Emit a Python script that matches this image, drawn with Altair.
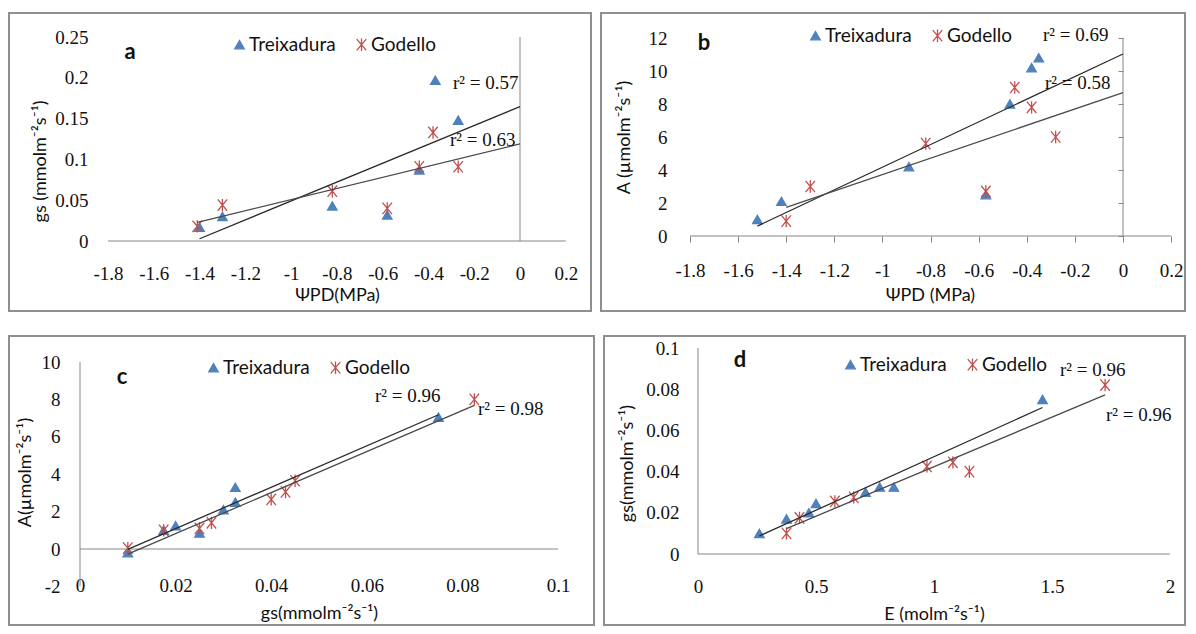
import altair as alt
import pandas as pd

SERIES = ["Treixadura", "Godello"]
BLUE = "#4F81BD"
RED = "#C0504D"
AXIS_GRAY = "#868686"
TXT = "#111111"
SERIF = "Liberation Serif"
SANS = "Lato"
STAR = "M-1,-1.2L1,1.2M-1,1.2L1,-1.2M0,-1.3L0,1.3"

# ---------------- data ----------------
# (a) gs vs Psi PD
a_treix_x = [-1.40, -1.30, -0.82, -0.58, -0.44, -0.37, -0.27]
a_treix_y = [0.017, 0.030, 0.043, 0.032, 0.087, 0.197, 0.148]
a_god_x = [-1.41, -1.30, -0.82, -0.58, -0.44, -0.38, -0.27]
a_god_y = [0.018, 0.044, 0.061, 0.040, 0.091, 0.133, 0.091]
a_xticks = [-1.8, -1.6, -1.4, -1.2, -1.0, -0.8, -0.6, -0.4, -0.2, 0.0, 0.2]
a_yticks = [0, 0.05, 0.1, 0.15, 0.2, 0.25]
a_r2 = ["r² = 0.57", "r² = 0.63"]

# (b) A vs Psi PD
b_treix_x = [-1.52, -1.42, -0.89, -0.57, -0.47, -0.38, -0.35]
b_treix_y = [1.0, 2.1, 4.2, 2.5, 8.0, 10.2, 10.8]
b_god_x = [-1.40, -1.30, -0.82, -0.57, -0.45, -0.38, -0.28]
b_god_y = [0.9, 3.0, 5.6, 2.7, 9.0, 7.8, 6.0]
b_xticks = [-1.8, -1.6, -1.4, -1.2, -1.0, -0.8, -0.6, -0.4, -0.2, 0.0, 0.2]
b_yticks = [0, 2, 4, 6, 8, 10, 12]
b_r2 = ["r² = 0.69", "r² = 0.58"]

# (c) A vs gs
c_treix_x = [0.010, 0.0175, 0.020, 0.025, 0.030, 0.0325, 0.0325, 0.075]
c_treix_y = [-0.2, 1.0, 1.25, 0.85, 2.1, 2.5, 3.3, 7.05]
c_god_x = [0.010, 0.0175, 0.025, 0.0275, 0.040, 0.043, 0.045, 0.0825]
c_god_y = [0.05, 1.0, 1.1, 1.4, 2.65, 3.05, 3.65, 8.0]
c_xticks = [0, 0.02, 0.04, 0.06, 0.08, 0.1]
c_yticks = [-2, 0, 2, 4, 6, 8, 10]
c_r2 = ["r² = 0.96", "r² = 0.98"]

# (d) gs vs E
d_treix_x = [0.26, 0.375, 0.47, 0.50, 0.71, 0.77, 0.83, 1.46]
d_treix_y = [0.010, 0.017, 0.020, 0.0245, 0.030, 0.0325, 0.0325, 0.075]
d_god_x = [0.375, 0.43, 0.58, 0.66, 0.97, 1.08, 1.15, 1.725]
d_god_y = [0.010, 0.0175, 0.0255, 0.0275, 0.0425, 0.0445, 0.040, 0.082]
d_xticks = [0, 0.5, 1, 1.5, 2]
d_yticks = [0, 0.02, 0.04, 0.06, 0.08, 0.1]
d_r2 = ["r² = 0.96", "r² = 0.96"]

# ---------------- layout (pixels) ----------------
PANELS = [
    dict(letter="a", tx=a_treix_x, ty=a_treix_y, gx=a_god_x, gy=a_god_y,
         xticks=a_xticks, yticks=a_yticks, r2=a_r2, forecast0=True,
         xtitle="ΨPD(MPa)", ytitle="gs (mmolm⁻²s⁻¹)",
         box=(9, 13, 582, 298), xa=((-1.8, 108), (0, 520)), ya=((0, 241), (0.25, 37)),
         xlab_y=273, ylab_r=88, xtitle_pos=(337, 295), ytitle_pos=(40, 161),
         ticks=(0, 0), legend=(237, 44), letter_pos=(130, 52),
         r2_pos=[(453, 83), (450, 140)]),
    dict(letter="b", tx=b_treix_x, ty=b_treix_y, gx=b_god_x, gy=b_god_y,
         xticks=b_xticks, yticks=b_yticks, r2=b_r2, forecast0=True,
         xtitle="ΨPD (MPa)", ytitle="A (µmolm⁻²s⁻¹)",
         box=(601, 13, 584, 298), xa=((-1.8, 690), (0, 1123)), ya=((0, 236), (12, 38)),
         xlab_y=270, ylab_r=667, xtitle_pos=(930, 295), ytitle_pos=(624, 137),
         ticks=(6, 5), legend=(813, 35), letter_pos=(704, 43),
         r2_pos=[(1043, 35), (1045, 83)]),
    dict(letter="c", tx=c_treix_x, ty=c_treix_y, gx=c_god_x, gy=c_god_y,
         xticks=c_xticks, yticks=c_yticks, r2=c_r2, forecast0=False,
         xtitle="gs(mmolm⁻²s⁻¹)", ytitle="A(µmolm⁻²s⁻¹)",
         box=(9, 336, 585, 289), xa=((0, 80), (0.1, 558)), ya=((0, 549), (10, 362)),
         xlab_y=585, ylab_r=60, xtitle_pos=(319, 613), ytitle_pos=(25, 472),
         ticks=(0, 0), legend=(211, 367), letter_pos=(122, 377),
         r2_pos=[(375, 396), (478, 409)]),
    dict(letter="d", tx=d_treix_x, ty=d_treix_y, gx=d_god_x, gy=d_god_y,
         xticks=d_xticks, yticks=d_yticks, r2=d_r2, forecast0=False,
         xtitle="E (molm⁻²s⁻¹)", ytitle="gs(mmolm⁻²s⁻¹)",
         box=(604, 336, 581, 289), xa=((0, 698), (2, 1170)), ya=((0, 554), (0.1, 348)),
         xlab_y=586, ylab_r=679, xtitle_pos=(934, 614), ytitle_pos=(627, 463),
         ticks=(0, 0), legend=(848, 364), letter_pos=(740, 360),
         r2_pos=[(1060, 370), (1106, 415)]),
]


def make_panel(P):
    left, top, W, H = P["box"]
    (xv1, xp1), (xv2, xp2) = P["xa"]
    (yv1, yp1), (yv2, yp2) = P["ya"]
    kx = (xp2 - xp1) / (xv2 - xv1)
    x0 = xp1 - kx * xv1
    ky = (yp1 - yp2) / (yv2 - yv1)
    y0 = yp1 + ky * yv1
    xdom = [(left - x0) / kx, (left + W - x0) / kx]
    ydom = [(y0 - (top + H)) / ky, (y0 - top) / ky]

    def dx(px):
        return (px - x0) / kx

    def dy(py):
        return (y0 - py) / ky

    xs = alt.Scale(domain=xdom, nice=False, zero=False)
    ys = alt.Scale(domain=ydom, nice=False, zero=False)
    xt, yt = P["ticks"]

    xaxis = alt.Axis(
        orient="bottom", offset=(y0 - top) - H, values=P["xticks"],
        labelExpr="'' + datum.value", domain=False, grid=False,
        ticks=xt > 0, tickSize=xt, tickColor=AXIS_GRAY, tickWidth=1,
        labelPadding=P["xlab_y"] - y0 - xt, labelBaseline="middle", labelAlign="center",
        labelFont=SERIF, labelFontSize=19, labelColor=TXT,
        labelOverlap=False, labelFlush=False,
        title=P["xtitle"], titleX=P["xtitle_pos"][0] - left, titleY=P["xtitle_pos"][1] - y0,
        titleAlign="center", titleBaseline="middle", titleAngle=0,
        titleFont=SANS, titleFontSize=18, titleFontWeight="normal", titleColor=TXT)
    yaxis = alt.Axis(
        orient="left", offset=-(x0 - left), values=P["yticks"],
        labelExpr="'' + datum.value", domain=False, grid=False,
        ticks=yt > 0, tickSize=yt, tickColor=AXIS_GRAY, tickWidth=1,
        labelPadding=x0 - P["ylab_r"] - yt, labelBaseline="middle", labelAlign="right",
        labelFont=SERIF, labelFontSize=19, labelColor=TXT,
        labelOverlap=False, labelFlush=False,
        title=P["ytitle"], titleX=P["ytitle_pos"][0] - x0, titleY=P["ytitle_pos"][1] - top,
        titleAlign="center", titleBaseline="middle", titleAngle=270,
        titleFont=SANS, titleFontSize=18, titleFontWeight="normal", titleColor=TXT)

    def X(f="x:Q"):
        return alt.X(f, scale=xs, axis=xaxis)

    def Y(f="y:Q"):
        return alt.Y(f, scale=ys, axis=yaxis)

    pts = pd.DataFrame({
        "x": P["tx"] + P["gx"],
        "y": P["ty"] + P["gy"],
        "series": [SERIES[0]] * len(P["tx"]) + [SERIES[1]] * len(P["gx"]),
    })

    leg = alt.Legend(
        orient="none", legendX=P["legend"][0] - left - 7, legendY=P["legend"][1] - top - 9,
        direction="horizontal", title=None, padding=0, columnPadding=16, labelOffset=0,
        labelFont=SANS, labelFontSize=19, labelColor=TXT, symbolSize=90,
        symbolStrokeWidth=1.3, symbolOpacity=1)

    points = alt.Chart(pts).mark_point(filled=True, opacity=1, size=90, strokeWidth=1.3).encode(
        x=X(), y=Y(),
        shape=alt.Shape("series:N", scale=alt.Scale(domain=SERIES, range=["triangle-up", STAR]), legend=leg),
        fill=alt.Fill("series:N", scale=alt.Scale(domain=SERIES, range=[BLUE, RED]), legend=leg),
        stroke=alt.Stroke("series:N", scale=alt.Scale(domain=SERIES, range=[BLUE, RED]), legend=leg),
    )

    xline = pd.DataFrame({"x": [min(P["xticks"])], "x2": [max(P["xticks"])], "y": [0]})
    yline = pd.DataFrame({"x": [0], "y": [min(P["yticks"])], "y2": [max(P["yticks"])]})
    hrule = alt.Chart(xline).mark_rule(color=AXIS_GRAY, strokeWidth=1).encode(
        x=X(), x2="x2:Q", y=Y())
    vrule = alt.Chart(yline).mark_rule(color=AXIS_GRAY, strokeWidth=1).encode(
        x=X(), y=Y(), y2="y2:Q")

    regs = []
    for s, sx, col in [(SERIES[0], P["tx"], "#2b2b2b"), (SERIES[1], P["gx"], "#4a4a4a")]:
        ext = [min(sx), 0] if P["forecast0"] else [min(sx), max(sx)]
        regs.append(
            alt.Chart(pts).transform_filter(alt.datum.series == s)
            .transform_regression("x", "y", extent=ext)
            .mark_line(color=col, strokeWidth=1.3)
            .encode(x=X(), y=Y())
        )

    letter_df = pd.DataFrame({"x": [dx(P["letter_pos"][0])], "y": [dy(P["letter_pos"][1])],
                              "t": [P["letter"]]})
    letter = alt.Chart(letter_df).mark_text(font=SANS, fontSize=22, fontWeight="bold", color=TXT,
                                            align="center", baseline="middle").encode(
        x=X(), y=Y(), text="t:N")

    r2_df = pd.DataFrame({"x": [dx(p[0]) for p in P["r2_pos"]], "y": [dy(p[1]) for p in P["r2_pos"]],
                          "t": P["r2"]})
    r2 = alt.Chart(r2_df).mark_text(font=SERIF, fontSize=19, color=TXT, align="left",
                                    baseline="middle").encode(
        x=X(), y=Y(), text="t:N")

    return alt.layer(points, hrule, vrule, *regs, letter, r2).properties(width=W, height=H)


pa, pb, pc, pd_ = [make_panel(P) for P in PANELS]

IND = dict(shape="independent", fill="independent", stroke="independent")
top = alt.hconcat(pa, pb, spacing=8).resolve_scale(**IND).resolve_legend(**IND)
bot = alt.hconcat(pc, pd_, spacing=8).resolve_scale(**IND).resolve_legend(**IND)
chart = (
    alt.vconcat(top, bot, spacing=23)
    .resolve_scale(**IND).resolve_legend(**IND)
    .properties(padding={"left": 0, "top": 4, "right": 0, "bottom": 0}, background="white")
    .configure_view(stroke="#8f8f8f", strokeWidth=2)
    .configure_axis(labelFont=SERIF, labelFontSize=19, labelColor=TXT,
                    titleFont=SANS, titleFontSize=18, titleColor=TXT)
)

chart.save("out.html", embed_options={"renderer": "svg", "actions": False})
